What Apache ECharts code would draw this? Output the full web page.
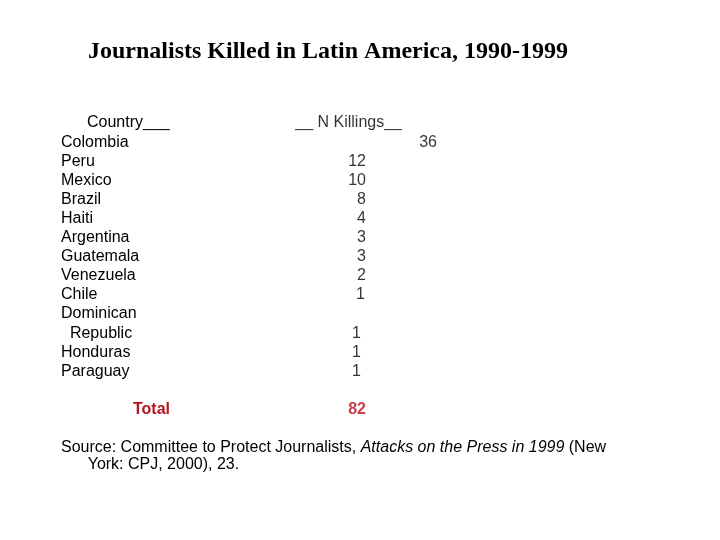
<!DOCTYPE html>
<html>
<head>
<meta charset="utf-8">
<script src="https://cdn.jsdelivr.net/npm/echarts@6/dist/echarts.min.js"></script>
<style>html,body{margin:0;padding:0;background:#fff}#c{width:720px;height:540px}</style>
</head>
<body>
<div id="c"></div>
<script>
const titleText = 'Journalists Killed in Latin America, 1990-1999';
const headerCountry = 'Country___';
const headerKillings = '__ N Killings__';
const countries = ['Colombia','Peru','Mexico','Brazil','Haiti','Argentina','Guatemala','Venezuela','Chile','Dominican Republic','Honduras','Paraguay'];
const killings = [36,12,10,8,4,3,3,2,1,1,1,1];
const totalLabel = 'Total';
const totalValue = 82;
const sourcePre = 'Source: Committee to Protect Journalists, ';
const sourceItalic = 'Attacks on the Press in 1999';
const sourcePost = ' (New';
const sourceLine2 = 'York: CPJ, 2000), 23.';

// Build table rows (category axis)
const rows = ['hdr'];
const rowText = {hdr: headerCountry};
const valueRows = [];
countries.forEach((c, i) => {
  if (c === 'Dominican Republic') {
    rows.push('r_dom1'); rowText['r_dom1'] = 'Dominican';
    rows.push('r_dom2'); rowText['r_dom2'] = '  Republic';
    valueRows.push('r_dom2');
  } else {
    const k = 'r_' + i; rows.push(k); rowText[k] = c; valueRows.push(k);
  }
});
rows.push('blank'); rowText['blank'] = '';
rows.push('total'); rowText['total'] = totalLabel;

const RED = '#b5131c';
const valueData = killings.map((v, i) => {
  const c = countries[i];
  let off = [-1, 0];
  if (v === 36) off = [70, 0];
  if (c === 'Dominican Republic' || c === 'Honduras' || c === 'Paraguay') off = [-6, 0];
  if (c === 'Chile') off = [-2, 0];
  return { value: [0, valueRows[i], v], label: { offset: off } };
});
valueData.push({ value: [0, 'total', totalValue], label: { offset: [-1, 0], color: RED, fontWeight: 'bold' } });
valueData.push({ value: [0, 'hdr', headerKillings], label: { offset: [35, 0] } });

const chart = echarts.init(document.getElementById('c'), null, {renderer: 'canvas'});
const FONT = 'Liberation Sans, Arial, sans-serif';
chart.setOption({
  backgroundColor: '#ffffff',
  animation: false,
  title: [
    { text: titleText, left: 88, top: 40, padding: 0,
      textStyle: { fontFamily: 'Liberation Serif, Times New Roman, serif', fontWeight: 'bold', fontSize: 24, color: '#000' } },
    { text: '{n|' + sourcePre + '}{i|' + sourceItalic + '}{n|' + sourcePost + '}\n{n|      ' + sourceLine2 + '}',
      left: 61, top: 439, padding: 0,
      textStyle: { fontFamily: FONT, fontSize: 16, fontWeight: 'normal', color: '#000', lineHeight: 17,
        rich: { n: { fontFamily: FONT, fontSize: 16, fontWeight: 'normal', color: '#000', lineHeight: 17 },
                i: { fontFamily: FONT, fontSize: 16, fontWeight: 'normal', fontStyle: 'italic', color: '#000', lineHeight: 17 } } } }
  ],
  grid: { left: 367, right: 20, top: 113.5, height: 305.6, containLabel: false },
  xAxis: { type: 'value', min: 0, max: 1, show: false },
  yAxis: {
    type: 'category', inverse: true, data: rows,
    axisLine: { show: false }, axisTick: { show: false }, splitLine: { show: false },
    axisLabel: {
      interval: 0, align: 'left', margin: 306,
      fontFamily: FONT, fontSize: 16, color: '#000',
      formatter: (k) => {
        if (k === 'hdr') return '{h|' + rowText[k] + '}';
        if (k === 'total') return '{t|' + rowText[k] + '}';
        return '{n|' + rowText[k] + '}';
      },
      rich: {
        n: { fontFamily: FONT, fontSize: 16, color: '#000' },
        h: { fontFamily: FONT, fontSize: 16, color: '#000', padding: [0, 0, 0, 26] },
        t: { fontFamily: FONT, fontSize: 16, color: RED, fontWeight: 'bold', padding: [0, 0, 0, 72] }
      }
    }
  },
  series: [{
    type: 'scatter', symbolSize: 0, silent: true,
    encode: { x: 0, y: 1 },
    data: valueData,
    label: { show: true, position: 'left', distance: 0, fontFamily: FONT, fontSize: 16, color: '#000',
      formatter: (p) => String(p.value[2]) }
  }]
});
</script>
</body>
</html>
